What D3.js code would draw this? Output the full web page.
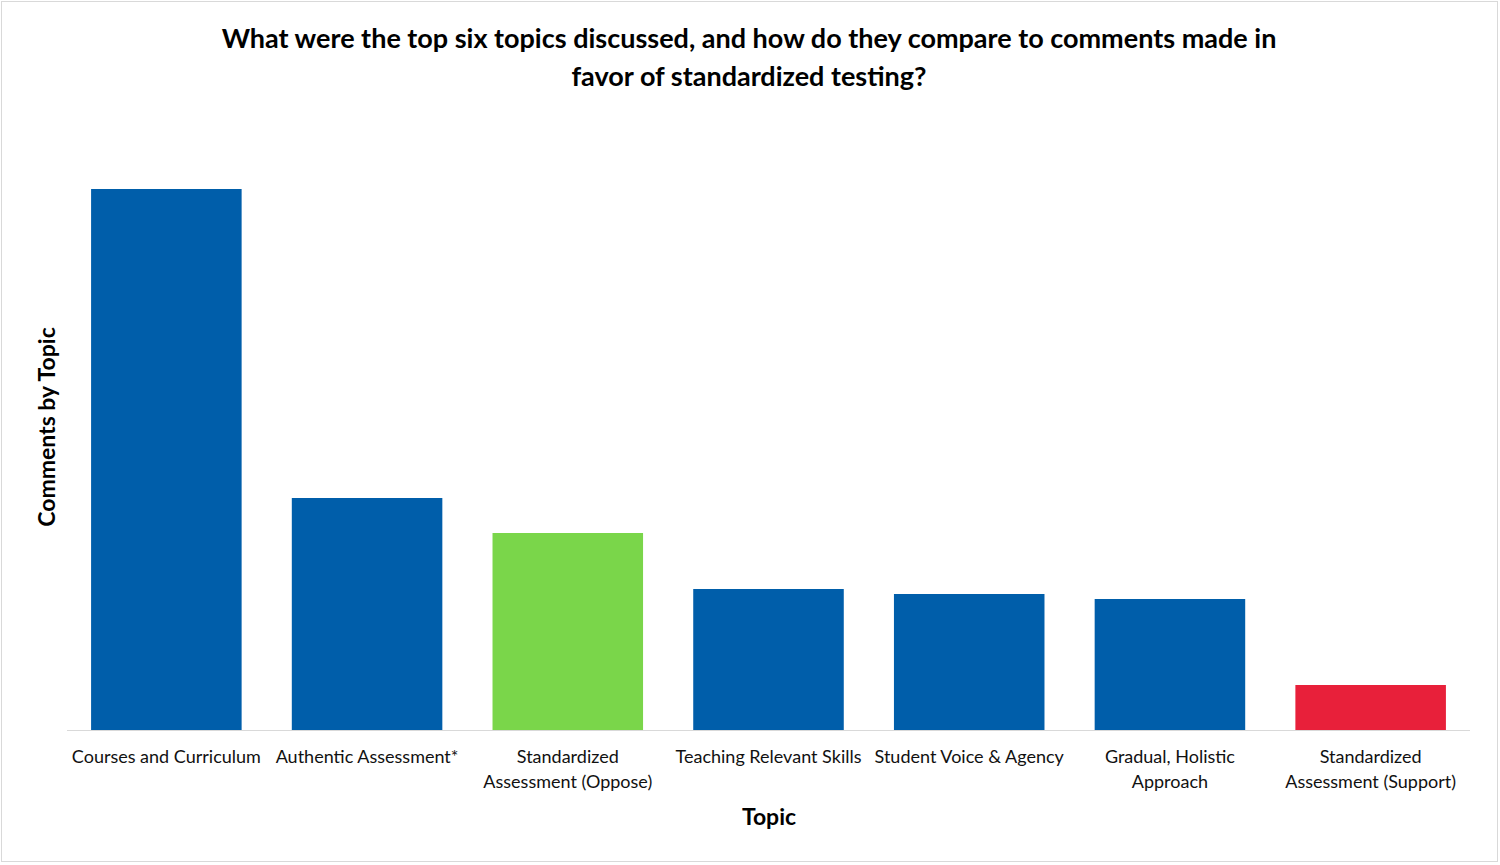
<!DOCTYPE html>
<html><head><meta charset="utf-8">
<script src="https://cdn.jsdelivr.net/npm/d3@7"></script>
<style>body{margin:0;background:#fff}text{font-family:Lato,"Open Sans",sans-serif}</style>
</head><body><svg id="c" width="1500" height="865"></svg>
<script>
const categories = [["Courses and Curriculum"],["Authentic Assessment*"],["Standardized","Assessment (Oppose)"],["Teaching Relevant Skills"],["Student Voice & Agency"],["Gradual, Holistic","Approach"],["Standardized","Assessment (Support)"]];
const values = [541, 232, 197, 141, 136, 131, 45];
const colors = ["#005eaa","#005eaa","#7ad64a","#005eaa","#005eaa","#005eaa","#e8203a"];
const svg = d3.select("#c");
svg.append("rect").attr("x",1.5).attr("y",1.5).attr("width",1496).attr("height",860).attr("fill","#fff").attr("stroke","#d9d9d9");
const x = d3.scaleBand().domain(d3.range(values.length)).range([67,1470]).paddingInner(0.25).paddingOuter(0.12);
const y = d3.scaleLinear().domain([0,541]).range([730,189]);
svg.selectAll(".bar").data(values).enter().append("rect")
 .attr("x",(d,i)=>x(i)).attr("width",x.bandwidth()).attr("y",d=>y(d)).attr("height",d=>730-y(d)).attr("fill",(d,i)=>colors[i]);
svg.append("line").attr("x1",67).attr("x2",1470).attr("y1",730.5).attr("y2",730.5).attr("stroke","#d9d9d9");
categories.forEach((lines,i)=>{
 const t=svg.append("text").attr("x",x(i)+x.bandwidth()/2).attr("y",763).attr("text-anchor","middle").attr("font-size",18).attr("fill","#111");
 lines.forEach((l,j)=>t.append("tspan").attr("x",x(i)+x.bandwidth()/2).attr("dy",j?25:0).text(l));
});
const title=svg.append("text").attr("text-anchor","middle").attr("font-size",27).attr("font-weight","bold").attr("fill","#000");
title.append("tspan").attr("x",749).attr("y",48).text("What were the top six topics discussed, and how do they compare to comments made in");
title.append("tspan").attr("x",749).attr("y",86).text("favor of standardized testing?");
svg.append("text").attr("x",769).attr("y",825).attr("text-anchor","middle").attr("font-size",23).attr("font-weight","bold").text("Topic");
svg.append("text").attr("transform","translate(55,427) rotate(-90)").attr("text-anchor","middle").attr("font-size",23).attr("font-weight","bold").text("Comments by Topic");
</script></body></html>
